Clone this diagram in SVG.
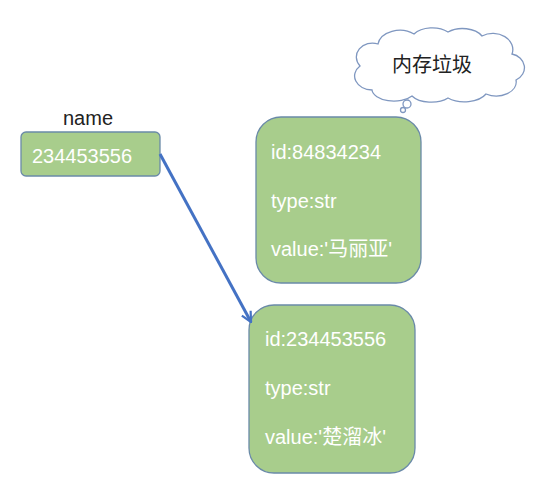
<svg xmlns="http://www.w3.org/2000/svg" width="541" height="488" viewBox="0 0 541 488">
<defs>
<style>
.box{fill:#a8cd8c;stroke:#6a8aa8;stroke-width:1.3}
.wt{font-family:"Liberation Sans","Noto Sans CJK SC",sans-serif;font-size:20px;fill:#ffffff}
.bt{font-family:"Liberation Sans","Noto Sans CJK SC",sans-serif;font-size:20px;fill:#222222}
.cloud{fill:#ffffff;stroke:#7f97c0;stroke-width:1.3}
.conn{stroke:#4472c4;stroke-width:3;fill:none}
</style>
<marker id="arr" viewBox="0 0 12 12" refX="11" refY="6" markerWidth="12" markerHeight="12" markerUnits="userSpaceOnUse" orient="auto">
<path d="M1,1 L11,6 L1,11" fill="none" stroke="#4472c4" stroke-width="2.2"/>
</marker>
</defs>
<rect width="541" height="488" fill="#ffffff"/>
<g id="cloud">
<path class="cloud" d="M372,90 a18,14 0 0 1 -12,-24 a16,14 0 0 1 18,-22 a22,16 0 0 1 36,-10 a22,14 0 0 1 34,-2 a22,14 0 0 1 34,4 a20,16 0 0 1 30,18 a16,14 0 0 1 4,26 a20,14 0 0 1 -30,14 a24,14 0 0 1 -38,4 a22,12 0 0 1 -36,-2 a22,12 0 0 1 -40,-6 Z"/>
<circle class="cloud" cx="407" cy="104" r="4"/>
<circle class="cloud" cx="403" cy="110" r="2.5"/>
<text class="bt" x="432" y="72" text-anchor="middle">内存垃圾</text>
</g>
<g id="name">
<text class="bt" x="63" y="125">name</text>
<rect class="box" x="21" y="132" width="139" height="44" rx="5"/>
<text class="wt" x="32" y="163">234453556</text>
</g>
<g id="obj1">
<rect class="box" x="256" y="117" width="165" height="166" rx="25"/>
<text class="wt" x="271" y="159">id:84834234</text>
<text class="wt" x="271" y="208">type:str</text>
<text class="wt" x="271" y="256">value:'马丽亚'</text>
</g>
<g id="obj2">
<rect class="box" x="249" y="305" width="166" height="168" rx="25"/>
<text class="wt" x="265" y="346">id:234453556</text>
<text class="wt" x="265" y="395">type:str</text>
<text class="wt" x="265" y="444">value:'楚溜冰'</text>
</g>
<g id="connectors">
<line class="conn" x1="160" y1="154" x2="251" y2="322" marker-end="url(#arr)"/>
</g>
</svg>
